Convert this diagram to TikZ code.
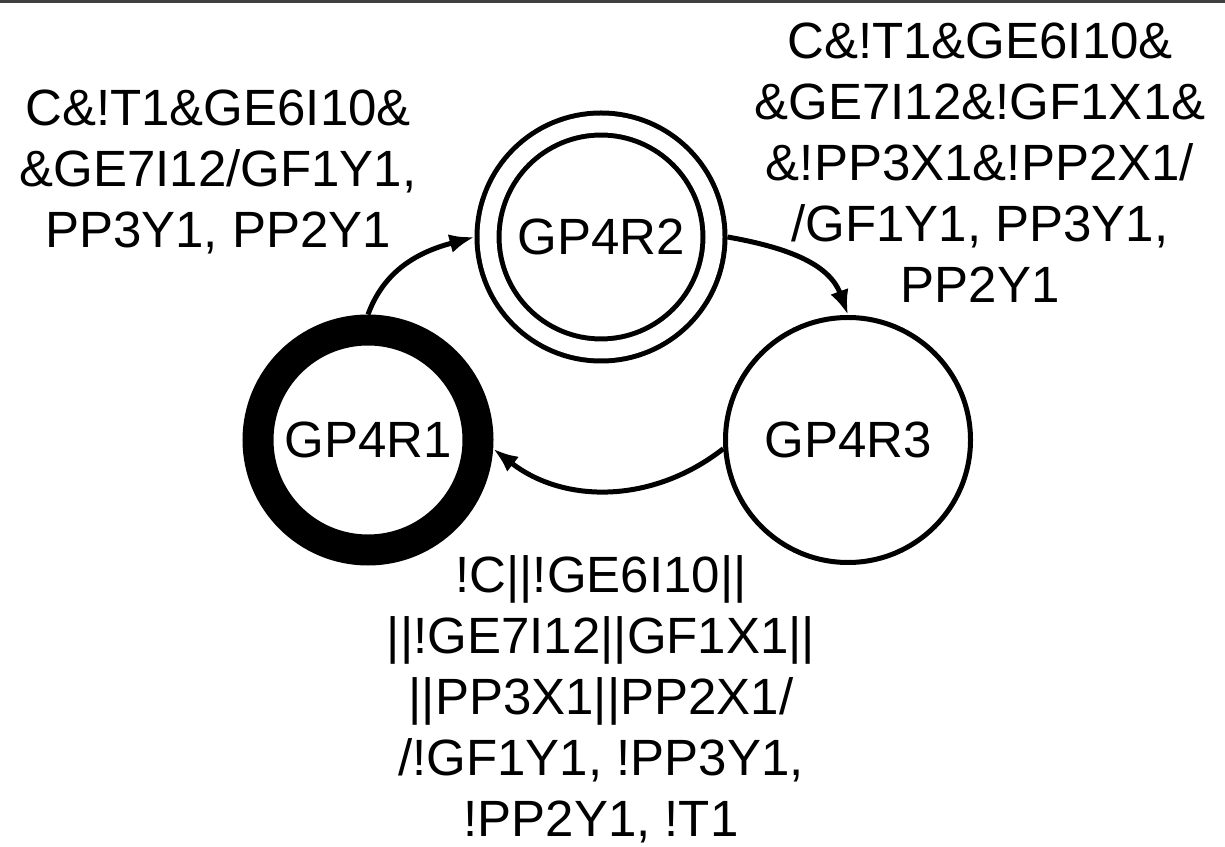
\documentclass[tikz,border=0pt]{standalone}
\usepackage{fontspec}
\setmainfont{Liberation Sans}
\usetikzlibrary{arrows.meta}

\begin{document}
\begin{tikzpicture}[
    x=1pt, y=1pt,
    >={Latex[length=25pt,width=19pt]},
    every node/.style={font=\fontsize{51}{61}\selectfont},
    state/.style    ={circle, draw, line width=5pt, inner sep=0pt, minimum size=245pt},
    startstate/.style={circle, draw, line width=31pt, inner sep=0pt, minimum size=220pt},
    accept/.style   ={circle, draw, double, line width=5pt, double distance=17pt,
                      inner sep=0pt, minimum size=226pt, outer sep=13.5pt},
    trans/.style    ={->, line width=5pt},
    guard/.style    ={align=center, inner sep=0pt, anchor=base},
]
\useasboundingbox (0,0) rectangle (1225,846);
\draw[black!75, line width=3pt] (0,844.5) -- (1225,844.5);

% the three states
\node[startstate] (r1) at (368,406) {GP4R1};
\node[accept]     (r2) at (601,609) {GP4R2};
\node[state]      (r3) at (848,406) {GP4R3};

\draw[trans] (r1.north) to[out=70, in=195] (r2.west);
\draw[trans] (r2.east) to[out=-10, in=110] (r3.north);
\draw[trans] (r3.184) to[bend left=38] (r1.-4);

% transition conditions / outputs (base = last line)
\node[guard] (g12) at (218,598)
     {C\&!T1\&GE6I10\&\\\&GE7I12/GF1Y1,\\PP3Y1, PP2Y1};
\node[guard] (g23) at (980,543)
     {C\&!T1\&GE6I10\&\\\&GE7I12\&!GF1X1\&\\\&!PP3X1\&!PP2X1/\\/GF1Y1, PP3Y1,\\PP2Y1};
\node[guard] (g31) at (601,10)
     {!C||!GE6I10||\\||!GE7I12||GF1X1||\\||PP3X1||PP2X1/\\/!GF1Y1, !PP3Y1,\\!PP2Y1, !T1};
\end{tikzpicture}
\end{document}
